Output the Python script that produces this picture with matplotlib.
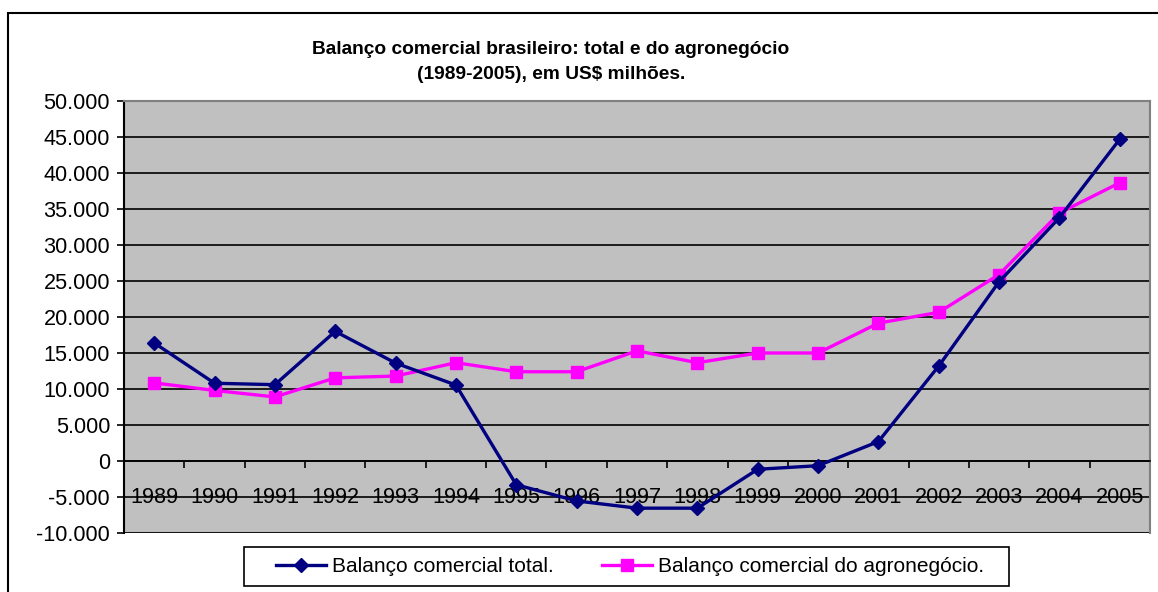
import matplotlib
matplotlib.use("Agg")
import matplotlib.pyplot as plt
from matplotlib.patches import Rectangle
from matplotlib.ticker import FuncFormatter, FixedLocator

plt.rcParams['font.family'] = ['Liberation Sans', 'DejaVu Sans']

anos = ['1989', '1990', '1991', '1992', '1993', '1994', '1995', '1996', '1997',
        '1998', '1999', '2000', '2001', '2002', '2003', '2004', '2005']
# US$ milhoes
saldo_total = [16400, 10800, 10600, 18000, 13600, 10550, -3300, -5550, -6550,
               -6550, -1150, -650, 2700, 13200, 24900, 33800, 44700]
saldo_agro = [10850, 9800, 8900, 11550, 11800, 13650, 12400, 12400, 15300,
              13650, 15000, 15000, 19150, 20650, 25900, 34450, 38650]

titulo = 'Balanço comercial brasileiro: total e do agronegócio\n(1989-2005), em US$ milhões.'
rotulo_total = 'Balanço comercial total.'
rotulo_agro = 'Balanço comercial do agronegócio.'

W, H = 1158, 592
fig = plt.figure(figsize=(W / 100, H / 100), dpi=100)
fig.patch.set_facecolor('white')

# moldura externa do grafico (cortada a direita e embaixo)
fig.patches.append(Rectangle((8 / W, -0.2), 2.0, (H - 13) / H + 0.2, transform=fig.transFigure,
                             fill=False, edgecolor='black', linewidth=1.5))

ax = fig.add_axes([124 / W, (H - 533) / H, (1150 - 124) / W, (533 - 101) / H])
ax.set_facecolor('#C0C0C0')

x = list(range(len(anos)))
ax.plot(x, saldo_total, color='#000080', linewidth=2.4, marker='D', markersize=7,
        label=rotulo_total, zorder=4, clip_on=False)
ax.plot(x, saldo_agro, color='#FF00FF', linewidth=2.4, marker='s', markersize=8,
        label=rotulo_agro, zorder=3, clip_on=False)

ax.set_xlim(-0.5, len(anos) - 0.5)
ax.set_ylim(-10000, 50000)
ax.set_yticks(range(-10000, 50001, 5000))
ax.yaxis.set_major_formatter(FuncFormatter(lambda v, p: '{:,}'.format(int(v)).replace(',', '.')))
ax.yaxis.grid(True, color='black', linewidth=1.2)
ax.set_axisbelow(True)

# eixo x cruzando em zero, como no Excel
ax.spines['bottom'].set_position(('data', 0))
ax.spines['bottom'].set_linewidth(1.2)
ax.xaxis.set_major_locator(FixedLocator(x))
ax.set_xticklabels(anos)
ax.xaxis.set_minor_locator(FixedLocator([i + 0.5 for i in x[:-1]]))
ax.tick_params(axis='x', which='major', length=0, pad=19, labelsize=15.6)
ax.tick_params(axis='x', which='minor', length=5, width=1.2, direction='out')
ax.tick_params(axis='y', length=5, width=1.2, direction='out', pad=5, labelsize=15.6)

for s in ['top', 'right']:
    ax.spines[s].set_color('#808080')
    ax.spines[s].set_linewidth(1.5)
ax.spines['left'].set_linewidth(1.5)
ax.add_patch(Rectangle((0, 0), 1, 1, transform=ax.transAxes, fill=False,
                       edgecolor='#808080', linewidth=1.5, zorder=0.5))

fig.text(551 / W, 1 - 62 / H, titulo, ha='center', va='center', fontsize=13.8,
         fontweight='bold', linespacing=1.6)

# legenda com caixa propria
fig.patches.append(Rectangle((244 / W, (H - 586) / H), (1009 - 244) / W, 39 / H,
                             transform=fig.transFigure, facecolor='white',
                             edgecolor='black', linewidth=1.2))
fig.legend(loc='center', bbox_to_anchor=(630 / W, (H - 567) / H), ncol=2, frameon=False,
           fontsize=15, handlelength=2.4, handletextpad=0.3, columnspacing=2.3,
           borderpad=0.2)

fig.savefig('out.png', dpi=100, facecolor='white')
